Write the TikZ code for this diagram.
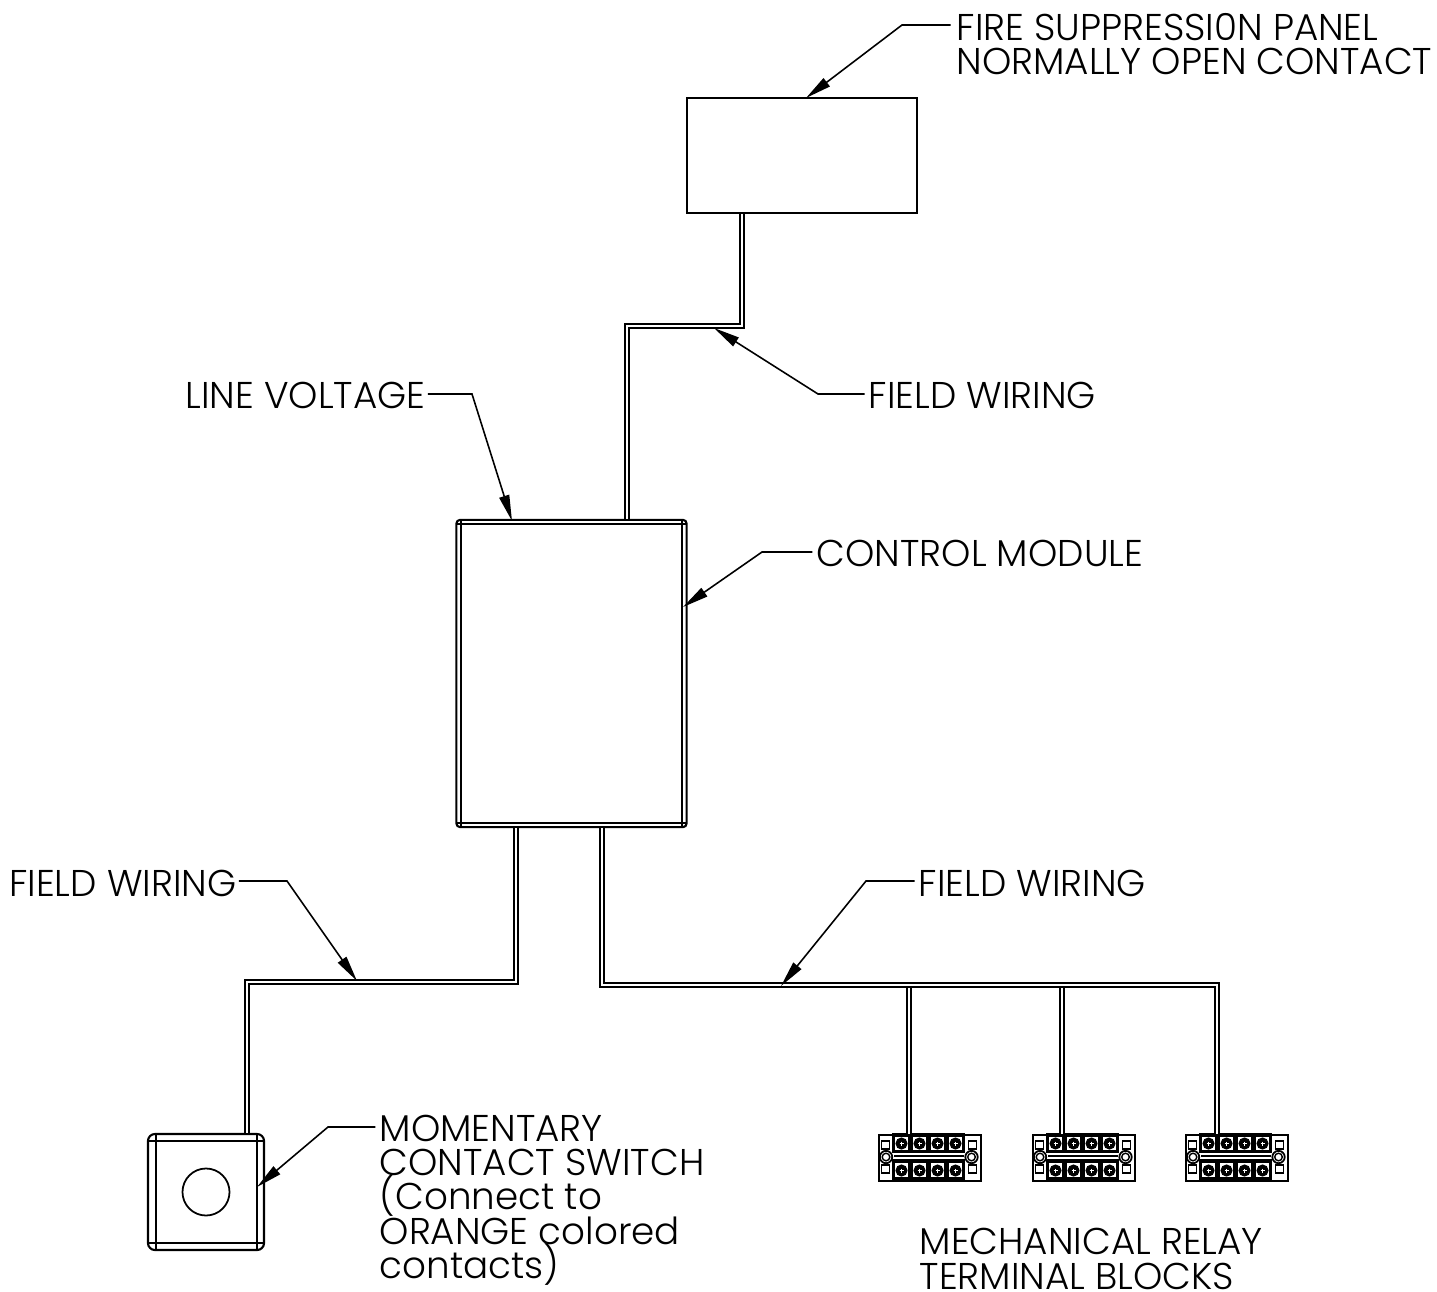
\documentclass[tikz,border=0pt]{standalone}
\usepackage{fontspec}
\setmainfont{Poppins}[UprightFont=* Light]
\usetikzlibrary{positioning,arrows.meta}
\newcommand{\lblfont}{\fontsize{10.6pt}{9.75pt}\selectfont\lineskiplimit=-20pt\relax}
\tikzset{
  wire/.style={draw=black, line width=0.55pt, double=white, double distance=0.75pt},
  box/.style={rectangle, draw=black, line width=0.6pt, inner sep=0pt},
  lead/.style={draw=black, line width=0.45pt, -{Triangle[length=7.4pt,width=2.9pt]}},
  lbl/.style={anchor=west, inner sep=0pt, align=left, font=\lblfont},
  fine/.style={draw=black, line width=0.55pt},
  cell/.style={draw=black, line width=1pt},
  screw/.style={draw=black, fill=black, line width=0.3pt}
}

\begin{document}
\begin{tikzpicture}[x=0.01cm, y=-0.01cm]
\useasboundingbox (0,0) rectangle (1437,1291);
% boxes
\node[box, minimum width=2.3cm, minimum height=1.15cm] (panel) at (802,155.5) {};
\node[box, minimum width=2.3cm, minimum height=3.07cm, rounded corners=1pt] (module) at (571.5,673.5) {};
\draw[fine] (461,520) -- (461,827) (682,520) -- (682,827) (457,524) -- (686,524) (457,823) -- (686,823);
\node[box, minimum width=1.16cm, minimum height=1.16cm, rounded corners=2pt] (switch) at (206,1192) {};
\draw[fine] (156,1134) -- (156,1250) (257,1134) -- (257,1250) (148,1141) -- (264,1141) (148,1243) -- (264,1243);
\node[circle, draw=black, line width=0.5pt, inner sep=0pt, minimum size=0.47cm] (button) at (206,1192) {};
% terminal blocks
\foreach \n/\x in {1/878,2/1032,3/1185}{
  \begin{scope}[shift={(\x,1134)}]
  \node[box, anchor=north west, minimum width=1.02cm, minimum height=0.46cm] (tb\n) at (0,0) {};
  \foreach \u in {15.5,33.5,51.5,69.5}{
    \draw[cell] (\u,1) rectangle ++(16,16.5);
    \draw[cell] (\u,27) rectangle ++(16,18);
  }
  \foreach \u in {23.5,41.5,59.5,77.5}{
    \draw[screw] (\u,9.5) circle (5.5);
    \draw[screw] (\u,36.5) circle (5.5);
    \draw[white, line width=0.2pt] (\u-2,9.5) -- (\u+2,9.5) (\u,7.5) -- (\u,11.5);
    \draw[white, line width=0.2pt] (\u-2,36.5) -- (\u+2,36.5) (\u,34.5) -- (\u,38.5);
  }
  \draw[line width=0.7pt] (16,22) -- (86,22);
  \foreach \u in {3.5,90.5}{
    \draw[line width=0.45pt] (\u,7) rectangle ++(8,8);
    \draw[line width=0.45pt] (\u,31) rectangle ++(8,8);
  }
  \foreach \u in {8,93.5}{
    \draw[line width=0.5pt] (\u,23) circle (6.2);
    \draw[line width=0.4pt] (\u,23) circle (3.8);
  }
  \end{scope}
}
% wiring
\coordinate (up1) at (742,326);
\coordinate (up2) at (627,326);
\coordinate (lf1) at (516,982);
\coordinate (lf2) at (247,982);
\coordinate (rt1) at (602,985);
\coordinate (rt2) at (1217,985);
\coordinate (j1) at (909,985);
\coordinate (j2) at (1062,985);
\draw[wire] (panel.south -| up1) -- (up1) -- (up2) -- (up2 |- module.north);
\draw[wire] (lf1 |- module.south) -- (lf1) -- (lf2) -- (lf2 |- switch.north);
\draw[wire] (j1) -- (j1 |- tb1.north);
\draw[wire] (j2) -- (j2 |- tb2.north);
\draw[wire] (rt1 |- module.south) -- (rt1) -- (rt2) -- (rt2 |- tb3.north);
% labels
\node[lbl] (fire) at (956,44) {FIRE SUPPRESSI0N PANEL\\NORMALLY OPEN CONTACT};
\node[lbl] (fw1) at (868,395) {FIELD WIRING};
\node[lbl, anchor=east] (line) at (426,395) {LINE VOLTAGE};
\node[lbl] (ctrl) at (816,553) {CONTROL MODULE};
\node[lbl, anchor=east] (fw2) at (237,883) {FIELD WIRING};
\node[lbl] (fw3) at (918,883) {FIELD WIRING};
\node[lbl] (mom) at (379,1200) {MOMENTARY\\CONTACT SWITCH\\(Connect to\\ORANGE colored\\contacts)};
\node[lbl] (relay) at (919,1259) {MECHANICAL RELAY\\TERMINAL BLOCKS};
% leaders
\coordinate (s1) at (902,25);
\coordinate (s2) at (818,394);
\coordinate (s3) at (472,394);
\coordinate (s4) at (762,552);
\coordinate (s5) at (287,881);
\coordinate (s6) at (866,881);
\coordinate (s7) at (328,1127);
\path[lead] ([xshift=-1.5pt]fire.west |- s1) -- (s1) -- (806,98);
\path[lead] ([xshift=-1pt]fw1.west |- s2) -- (s2) -- (714,328);
\path[lead] ([xshift=0.5pt]line.east |- s3) -- (s3) -- (512,521);
\path[lead] ([xshift=-1pt]ctrl.west |- s4) -- (s4) -- (683,607);
\path[lead] ([xshift=0.5pt]fw2.east |- s5) -- (s5) -- (357,981);
\path[lead] ([xshift=-1pt]fw3.west |- s6) -- (s6) -- (781,986);
\path[lead] ([xshift=-1pt]mom.west |- s7) -- (s7) -- (257,1187);
\end{tikzpicture}
\end{document}
